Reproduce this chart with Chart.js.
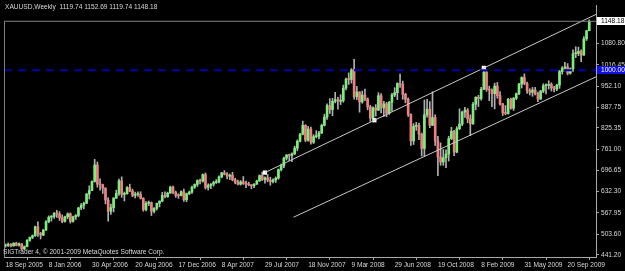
<!DOCTYPE html>
<html>
<head>
<meta charset="utf-8">
<script src="https://cdn.jsdelivr.net/npm/chart.js@4.4.1/dist/chart.umd.min.js"></script>
<style>
  html, body { margin: 0; padding: 0; background: #000; }
  canvas { display: block; }
</style>
</head>
<body>
<canvas id="chart" width="625" height="271"></canvas>
<script>
const TITLE = "XAUUSD,Weekly  1119.74 1152.69 1119.74 1148.18";
const COPYRIGHT = "SIGTrader 4, \u00a9 2001-2009 MetaQuotes Software Corp.";

// weekly bars, 18 Sep 2005 .. 15 Nov 2009
const OPEN = [
  468, 470, 473, 468, 476, 470, 474, 459, 466, 485, 494, 499, 526, 505, 501,
  516, 541, 555, 557, 567, 565, 553, 542, 556, 565, 542, 556, 560, 583, 591,
  597, 625, 636, 663, 713, 655, 653, 643, 607, 573, 584, 613, 627, 665, 624,
  626, 645, 634, 621, 624, 624, 612, 578, 597, 599, 573, 582, 597, 604, 621,
  617, 628, 646, 630, 621, 620, 632, 608, 626, 631, 646, 654, 666, 664, 684,
  645, 651, 655, 660, 662, 677, 689, 685, 679, 682, 668, 660, 655, 662, 657,
  655, 653, 650, 655, 665, 681, 669, 674, 667, 663, 668, 673, 699, 710, 734,
  743, 742, 747, 764, 785, 806, 833, 788, 822, 782, 799, 800, 810, 833, 858,
  893, 881, 906, 911, 906, 908, 946, 973, 972, 1001, 920, 934, 904, 925, 913,
  889, 855, 886, 879, 923, 886, 898, 870, 903, 925, 932, 960, 957, 927, 912,
  866, 786, 830, 833, 806, 763, 865, 882, 833, 857, 785, 737, 722, 735, 746,
  793, 815, 752, 823, 837, 873, 879, 853, 838, 897, 918, 914, 942, 994, 942,
  940, 929, 952, 923, 898, 871, 869, 912, 885, 915, 929, 958, 978, 960, 938,
  933, 940, 929, 913, 937, 953, 954, 957, 947, 943, 955, 996, 1006, 1010, 991,
  1004, 1050, 1051, 1057, 1046, 1095, 1119.74
];
const HIGH = [
  474, 477, 475, 478, 479, 477, 475, 468, 487, 495, 501, 528, 541, 509, 518,
  545, 559, 560, 569, 576, 572, 562, 558, 568, 568, 558, 563, 585, 596, 601,
  627, 650, 665, 730, 722, 671, 655, 644, 614, 595, 614, 637, 670, 677, 631,
  648, 655, 640, 631, 632, 632, 614, 602, 604, 601, 584, 598, 604, 630, 632,
  631, 649, 649, 634, 626, 635, 640, 628, 634, 649, 656, 668, 670, 686, 689,
  656, 657, 664, 669, 680, 691, 696, 690, 686, 691, 673, 667, 666, 678, 664,
  661, 654, 657, 667, 683, 691, 677, 684, 676, 671, 677, 701, 716, 737, 745,
  746, 750, 770, 789, 809, 846, 835, 830, 828, 805, 817, 815, 837, 867, 898,
  914, 915, 933, 918, 926, 955, 976, 992, 1005, 1033, 951, 935, 937, 943, 916,
  894, 889, 896, 932, 929, 906, 903, 906, 930, 947, 962, 988, 967, 930, 916,
  868, 838, 842, 840, 810, 910, 912, 905, 935, 865, 800, 780, 760, 759, 800,
  827, 818, 829, 883, 876, 888, 884, 865, 903, 920, 924, 948, 1007, 1002, 952,
  944, 961, 963, 935, 900, 893, 915, 916, 918, 931, 960, 980, 989, 964, 944,
  948, 948, 934, 939, 959, 959, 968, 962, 951, 958, 1000, 1011, 1024, 1020, 1007,
  1062, 1071, 1070, 1062, 1102, 1121, 1152.69
];
const LOW = [
  464, 466, 465, 467, 468, 467, 456, 456, 465, 482, 490, 497, 497, 489, 499,
  515, 538, 543, 551, 554, 545, 538, 540, 550, 537, 540, 548, 556, 578, 580,
  596, 610, 635, 661, 646, 637, 627, 595, 543, 563, 571, 611, 621, 615, 604,
  625, 632, 617, 613, 618, 610, 573, 574, 590, 560, 568, 577, 586, 602, 613,
  615, 627, 626, 615, 612, 619, 603, 602, 623, 627, 642, 648, 656, 661, 640,
  637, 641, 649, 657, 659, 674, 683, 671, 669, 665, 656, 653, 652, 654, 644,
  650, 641, 644, 654, 663, 666, 658, 662, 652, 659, 660, 670, 695, 705, 728,
  726, 723, 744, 756, 783, 804, 784, 785, 776, 778, 795, 792, 808, 831, 851,
  869, 862, 901, 882, 896, 903, 940, 957, 961, 912, 911, 873, 900, 908, 880,
  845, 853, 861, 878, 871, 860, 859, 866, 876, 920, 911, 948, 912, 901, 860,
  772, 775, 818, 790, 740, 740, 858, 826, 832, 772, 681, 712, 712, 705, 725,
  790, 741, 750, 820, 832, 857, 841, 802, 836, 880, 890, 909, 941, 936, 908,
  890, 883, 915, 894, 863, 865, 867, 882, 878, 911, 926, 946, 956, 930, 925,
  921, 925, 905, 911, 932, 928, 943, 937, 934, 938, 945, 988, 998, 986, 988,
  996, 1038, 1044, 1026, 1045, 1090, 1119.74
];
const CLOSE = [
  470, 473, 468, 476, 470, 474, 459, 466, 485, 494, 499, 526, 505, 501, 516,
  541, 555, 557, 567, 565, 553, 542, 556, 565, 542, 556, 560, 583, 591, 597,
  625, 636, 663, 713, 655, 653, 643, 607, 573, 584, 613, 627, 665, 624, 626,
  645, 634, 621, 624, 624, 612, 578, 597, 599, 573, 582, 597, 604, 621, 617,
  628, 646, 630, 621, 620, 632, 608, 626, 631, 646, 654, 666, 664, 684, 645,
  651, 655, 660, 662, 677, 689, 685, 679, 682, 668, 660, 655, 662, 657, 655,
  653, 650, 655, 665, 681, 669, 674, 667, 663, 668, 673, 699, 710, 734, 743,
  742, 747, 764, 785, 806, 833, 788, 822, 782, 799, 800, 810, 833, 858, 893,
  881, 906, 911, 906, 908, 946, 973, 972, 1001, 920, 934, 904, 925, 913, 889,
  855, 886, 879, 923, 886, 898, 870, 903, 925, 932, 960, 957, 927, 912, 866,
  786, 830, 833, 806, 763, 865, 882, 833, 857, 785, 737, 722, 735, 746, 793,
  815, 752, 823, 837, 873, 879, 853, 838, 897, 918, 914, 942, 994, 942, 940,
  929, 952, 923, 898, 871, 869, 912, 885, 915, 929, 958, 978, 960, 938, 933,
  940, 929, 913, 937, 953, 954, 957, 947, 943, 955, 996, 1006, 1010, 991, 1004,
  1050, 1051, 1057, 1046, 1095, 1119.74, 1148.18
];

const DATE_TICKS = [0, 16, 32, 48, 64, 80, 96, 112, 128, 144, 160, 176, 192, 208];
const DATE_LABELS = [
  "18 Sep 2005", "8 Jan 2006", "30 Apr 2006", "20 Aug 2006", "17 Dec 2006",
  "8 Apr 2007", "29 Jul 2007", "18 Nov 2007", "9 Mar 2008", "29 Jun 2008",
  "19 Oct 2008", "8 Feb 2009", "31 May 2009", "20 Sep 2009"
];
const PRICE_TICKS = [441.20, 503.60, 567.95, 632.30, 696.65, 761.00, 825.35, 887.75, 952.10, 1016.45, 1080.80];

const BID = 1148.18;
const LEVEL = 1000.0;

// trendlines as [bar, price]
const UPPER_LINE = [[96, 690], [218.5, 1169]];
const LOWER_LINE = [[106.6, 555], [218.5, 980]];
const ANCHORS = [[96, 690], [136.5, 848.5], [177, 1007]];

const X_MIN = -0.55;
const X_MAX = 218.5;
const FONT = '"Liberation Sans", Arial, sans-serif';
const TEXT = "#d8d8d8";
const AXIS = "#a8a8a8";

const bars = OPEN.map((o, i) => i);

const decor = {
  id: "decor",
  afterDraw(chart) {
    const ctx = chart.ctx;
    const y = chart.scales.y;
    const area = chart.chartArea;
    ctx.save();
    // left frame line
    ctx.strokeStyle = "#808080";
    ctx.lineWidth = 1;
    ctx.beginPath();
    ctx.moveTo(area.left + 0.5, Math.round(y.getPixelForValue(BID)) + 0.5);
    ctx.lineTo(area.left + 0.5, area.bottom);
    ctx.stroke();

    ctx.font = "6.6px " + FONT;
    ctx.textBaseline = "middle";
    ctx.fillStyle = TEXT;
    ctx.fillText(TITLE, 5, 7);
    ctx.fillText(COPYRIGHT, 3, 252);

    function priceBox(value, bg, fg) {
      const py = Math.round(y.getPixelForValue(value));
      ctx.fillStyle = bg;
      ctx.fillRect(area.right + 1, py - 4, 29, 8);
      ctx.fillStyle = fg;
      ctx.fillText(value.toFixed(2), area.right + 5, py);
    }
    priceBox(BID, "#ffffff", "#000000");
    priceBox(LEVEL, "#1010e0", "#ffffff");
    ctx.restore();
  },
};

new Chart(document.getElementById("chart"), {
  type: "bar",
  data: {
    datasets: [
      {
        type: "line",
        data: [{ x: X_MIN, y: LEVEL }, { x: X_MAX, y: LEVEL }],
        borderColor: "#0000a0",
        borderWidth: 2,
        borderDash: [8, 6],
        pointRadius: 0,
        order: 0,
      },
      {
        type: "line",
        data: [{ x: X_MIN, y: BID }, { x: X_MAX, y: BID }],
        borderColor: "#808080",
        borderWidth: 1,
        pointRadius: 0,
        order: 0,
      },
      {
        type: "line",
        data: UPPER_LINE.map((p) => ({ x: p[0], y: p[1] })),
        borderColor: "#c8c8c8",
        borderWidth: 1,
        pointRadius: 0,
        order: 0,
      },
      {
        type: "line",
        data: LOWER_LINE.map((p) => ({ x: p[0], y: p[1] })),
        borderColor: "#c8c8c8",
        borderWidth: 1,
        pointRadius: 0,
        order: 0,
      },
      {
        type: "scatter",
        data: ANCHORS.map((p) => ({ x: p[0], y: p[1] })),
        pointStyle: "rect",
        pointRadius: 3,
        backgroundColor: "#ffffff",
        borderWidth: 0,
        order: 0,
      },
      {
        data: bars.map((i) => ({ x: i, y: [OPEN[i], CLOSE[i]] })),
        backgroundColor: bars.map((i) => (CLOSE[i] >= OPEN[i] ? "#7cee7c" : "#f08080")),
        barThickness: 2,
        minBarLength: 1,
        grouped: false,
        order: 1,
      },
      {
        data: bars.map((i) => ({ x: i, y: [LOW[i], HIGH[i]] })),
        backgroundColor: "#b0b0b0",
        barThickness: 1,
        grouped: false,
        order: 2,
      },
    ],
  },
  options: {
    responsive: false,
    animation: false,
    layout: { padding: { left: 1, top: 0, right: 0, bottom: 0 } },
    plugins: {
      legend: { display: false },
      tooltip: { enabled: false },
    },
    scales: {
      x: {
        type: "linear",
        min: X_MIN,
        max: X_MAX,
        offset: false,
        afterFit: (s) => { s.height = 14; },
        afterBuildTicks: (s) => { s.ticks = DATE_TICKS.map((v) => ({ value: v })); },
        ticks: {
          autoSkip: false,
          maxRotation: 0,
          minRotation: 0,
          align: "start",
          padding: 1,
          color: TEXT,
          font: { family: FONT, size: 6.6 },
          callback: (v, i) => DATE_LABELS[i],
        },
        grid: { drawOnChartArea: false, tickLength: 3, color: AXIS },
        border: { color: AXIS },
      },
      y: {
        position: "right",
        min: 434.4,
        max: 1194.6,
        afterFit: (s) => { s.width = 29; },
        afterBuildTicks: (s) => { s.ticks = PRICE_TICKS.map((v) => ({ value: v })); },
        ticks: {
          padding: 2,
          color: TEXT,
          font: { family: FONT, size: 6.6 },
          callback: (v) => v.toFixed(2),
        },
        grid: { drawOnChartArea: false, tickLength: 3, color: AXIS },
        border: { color: AXIS },
      },
    },
  },
  plugins: [decor],
});
</script>
</body>
</html>
